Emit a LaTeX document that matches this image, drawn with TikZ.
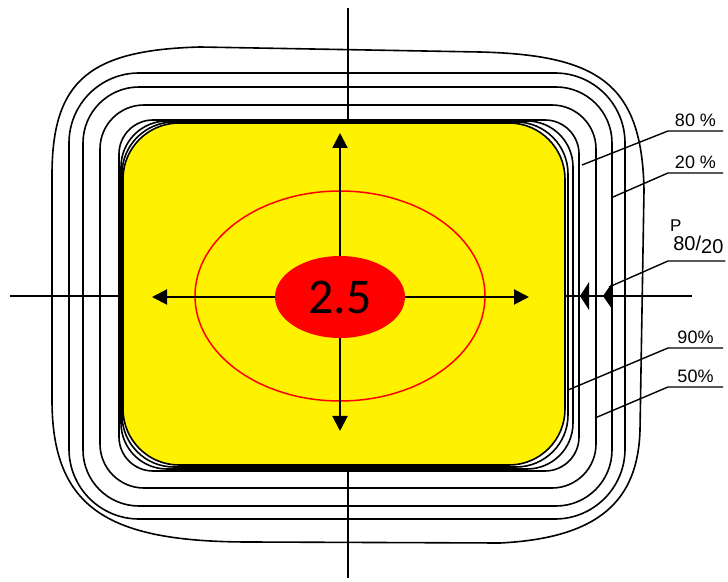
\documentclass[tikz,border=0pt]{standalone}
\usepackage{fontspec}
\setmainfont{Liberation Sans}
\newfontfamily\calibfont{Carlito}
\usetikzlibrary{arrows.meta,shapes.geometric}

\begin{document}
\begin{tikzpicture}[x=0.5pt,y=-0.5pt,
  contour/.style={line width=0.8pt},
  axis/.style={line width=0.75pt},
  leader/.style={line width=0.7pt},
  arr/.style={line width=1pt,-{Triangle[length=7.5pt,width=7.5pt]}},
  pct/.style={anchor=south west,inner xsep=1pt,inner ysep=2pt,outer sep=0pt,
    minimum width=27.5pt,font=\fontsize{9}{10}\selectfont}]
  \useasboundingbox (0,0) rectangle (728,582);
  % axes
  \coordinate (axN) at (348,8);
  \coordinate (axS) at (348,578);
  \coordinate (axW) at (10,296);
  \coordinate (axE) at (692,296);
  \draw[axis] (axN) -- (axS);
  \draw[axis] (axW) -- (axE);
  % outer contour
  \draw[contour] (52,300) -- (52,175) .. controls (52,80) and (90,50) .. (200,47)
    -- (480,52) .. controls (600,55) and (642,85) .. (644,190)
    -- (640,430) .. controls (638,500) and (600,538) .. (500,543)
    -- (250,542) .. controls (110,542) and (52,510) .. (52,400) -- cycle;
  % inner contours
  \foreach \l/\t/\r/\b/\rad in {69/73/625/519/35,83/87/612/506/28,
      100/105/596/488/22,119/120/579/471/17,121/121/573/469/23,122/122/568/467/26}
    \draw[contour,rounded corners=\rad pt] (\l,\t) rectangle (\r,\b);
  % field
  \draw[fill=yellow,line width=0.8pt,rounded corners=28pt] (123,123) rectangle (565,465);
  % marks on the axis
  \fill (580,296) -- (589,282) -- (589,310) -- cycle;
  \fill (603,296) -- (612,283) -- (612,309) -- cycle;
  % centre
  \coordinate (tN) at (340,133);
  \coordinate (tS) at (340,431);
  \coordinate (tW) at (152,297);
  \coordinate (tE) at (529,297);
  \draw[red,line width=0.75pt] (340,296) ellipse [x radius=72.5pt,y radius=52.5pt];
  \node[ellipse,fill=red,minimum width=65pt,minimum height=41pt,inner sep=0pt,
    font=\calibfont\fontsize{25}{30}\selectfont] (core) at (340,297) {2.5};
  \draw[arr] (core) -- (tN);
  \draw[arr] (core) -- (tS);
  \draw[arr] (core) -- (tW);
  \draw[arr] (core) -- (tE);
  % labels
  \coordinate (e80) at (582,165);
  \coordinate (e20) at (613,197);
  \coordinate (ep) at (609,287);
  \coordinate (e90) at (568,390);
  \coordinate (e50) at (595,418);
  \node[pct] (l80) at (668,131) {80 \%};
  \node[pct] (l20) at (668,173) {20 \%};
  \node[pct,inner ysep=3.5pt,font=\fontsize{10}{11}\selectfont] (lp) at (668,261)
    {\rlap{\raisebox{1.75ex}{\fontsize{8.5}{10}\selectfont P}}\,80/\raisebox{-0.35ex}{20}};
  \node[pct] (l90) at (668,348) {90\%};
  \node[pct] (l50) at (668,387) {50\%};
  \draw[leader] (e80) -- (l80.south west) -- (l80.south east);
  \draw[leader] (e20) -- (l20.south west) -- (l20.south east);
  \draw[leader] (ep) -- (lp.south west) -- (lp.south east);
  \draw[leader] (e90) -- (l90.south west) -- (l90.south east);
  \draw[leader] (e50) -- (l50.south west) -- (l50.south east);
\end{tikzpicture}
\end{document}
